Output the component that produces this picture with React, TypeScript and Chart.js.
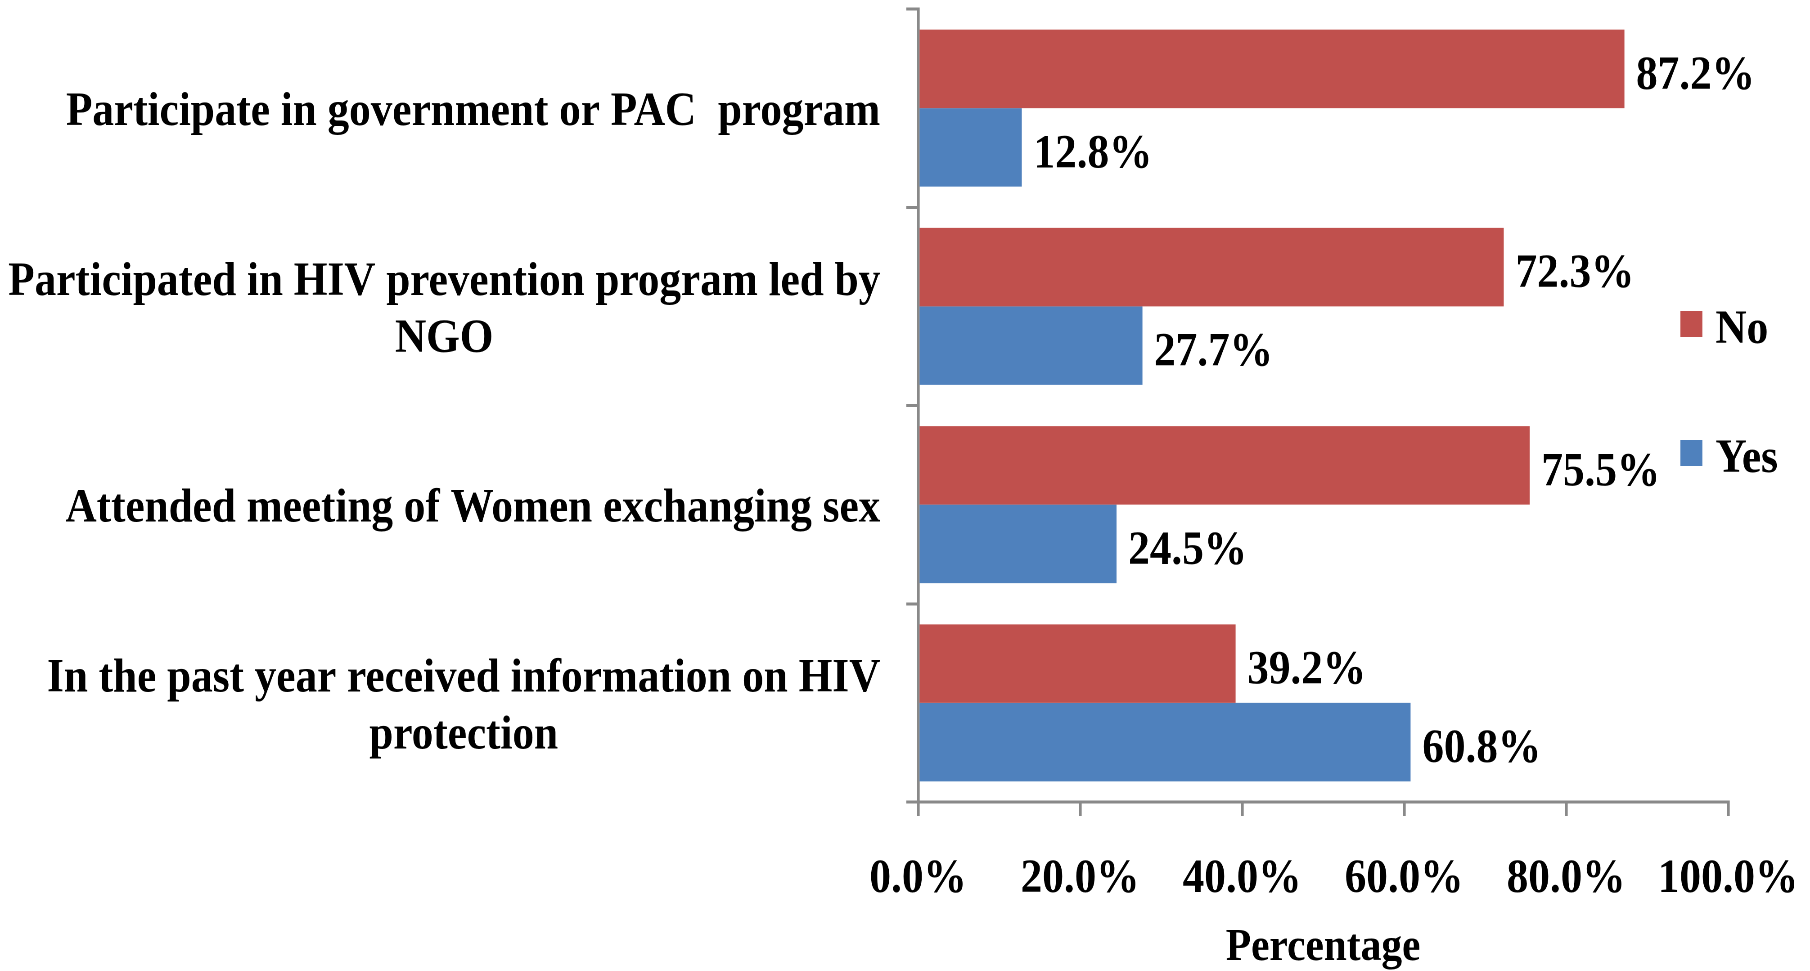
import React, { useEffect, useRef } from "react";
import { Chart, registerables } from "chart.js";

Chart.register(...registerables);

// Category labels, one entry per line of text
const categories: string[][] = [
  ["Participate in government or PAC  program"],
  ["Participated in HIV prevention program led by", "NGO"],
  ["Attended meeting of Women exchanging sex"],
  ["In the past year received information on HIV", "protection"],
];

const seriesNames = ["No", "Yes"];
const seriesColors = ["#C0504D", "#4F81BD"];
const noValues = [87.2, 72.3, 75.5, 39.2];
const yesValues = [12.8, 27.7, 24.5, 60.8];

const xTickValues = [0, 20, 40, 60, 80, 100];
const xAxisTitle = "Percentage";

const FONT = '"Liberation Serif", "Times New Roman", serif';
const AXIS_COLOR = "#898989";

// The drawing is laid out on a wider canvas and condensed horizontally.
const VIEW_W = 1810;
const VIEW_H = 971;
const CANVAS_W = 2011;

// Multi-line category labels: lines centred on each other, block right-aligned to the axis
const categoryLabelsPlugin = {
  id: "categoryLabels",
  afterDraw(chart: any) {
    const { ctx } = chart;
    const yScale = chart.scales.y;
    ctx.save();
    ctx.font = `bold 48px ${FONT}`;
    ctx.fillStyle = "#000";
    ctx.textAlign = "center";
    ctx.textBaseline = "alphabetic";
    const rightEdge = yScale.right - 42;
    categories.forEach((lines, i) => {
      const center = yScale.getPixelForTick(i);
      const blockW = Math.max(...lines.map((l) => ctx.measureText(l).width));
      const cx = rightEdge - blockW / 2;
      lines.forEach((line, j) => {
        ctx.fillText(line, cx, center + 17 + (j - (lines.length - 1) / 2) * 57);
      });
    });
    ctx.restore();
  },
};

// Value labels at the end of every bar
const valueLabelsPlugin = {
  id: "valueLabels",
  afterDatasetsDraw(chart: any) {
    const { ctx } = chart;
    ctx.save();
    ctx.font = `bold 48px ${FONT}`;
    ctx.fillStyle = "#000";
    ctx.textAlign = "left";
    ctx.textBaseline = "alphabetic";
    chart.data.datasets.forEach((ds: any, di: number) => {
      const meta = chart.getDatasetMeta(di);
      meta.data.forEach((bar: any, i: number) => {
        const v = ds.data[i] as number;
        ctx.fillText(`${v.toFixed(1)}%`, bar.x + 13, bar.y + 20);
      });
    });
    ctx.restore();
  },
};

// Legend drawn inside the right part of the plot
const sideLegendPlugin = {
  id: "sideLegend",
  afterDraw(chart: any) {
    const { ctx, chartArea } = chart;
    ctx.save();
    ctx.font = `bold 48px ${FONT}`;
    ctx.textAlign = "left";
    ctx.textBaseline = "alphabetic";
    const boxX = chartArea.right - 53;
    chart.data.datasets.forEach((ds: any, i: number) => {
      const top = 311 + i * 129;
      ctx.fillStyle = ds.backgroundColor;
      ctx.fillRect(boxX, top, 24.4, 26);
      ctx.fillStyle = "#000";
      ctx.fillText(ds.label, boxX + 39, top + 32);
    });
    ctx.restore();
  },
};

export default function App() {
  const canvasRef = useRef<HTMLCanvasElement>(null);

  useEffect(() => {
    const canvas = canvasRef.current;
    if (!canvas) return;
    const chart = new Chart(canvas, {
      type: "bar",
      data: {
        labels: categories.map((l) => l.join(" ")),
        datasets: [
          {
            label: seriesNames[0],
            data: noValues,
            backgroundColor: seriesColors[0],
            borderWidth: 0,
            categoryPercentage: 0.792,
            barPercentage: 1.0,
          },
          {
            label: seriesNames[1],
            data: yesValues,
            backgroundColor: seriesColors[1],
            borderWidth: 0,
            categoryPercentage: 0.792,
            barPercentage: 1.0,
          },
        ],
      },
      options: {
        animation: false,
        responsive: true,
        maintainAspectRatio: false,
        devicePixelRatio: 2,
        indexAxis: "y",
        layout: { padding: { top: 9, right: 91, left: 0, bottom: 0 } },
        plugins: {
          legend: { display: false },
          tooltip: { enabled: false },
        },
        scales: {
          x: {
            type: "linear",
            position: "bottom",
            min: 0,
            max: 100,
            afterBuildTicks: (scale: any) => {
              scale.ticks = xTickValues.map((v) => ({ value: v }));
            },
            afterFit: (scale: any) => {
              scale.height = 169;
            },
            grid: {
              drawOnChartArea: false,
              color: AXIS_COLOR,
              lineWidth: 3.3,
              tickLength: 14,
            },
            border: { color: AXIS_COLOR, width: 3 },
            ticks: {
              color: "#000",
              padding: 10,
              maxRotation: 0,
              autoSkip: false,
              font: { family: FONT, size: 48, weight: "bold", lineHeight: 2.23 },
              callback: (v: any) => `${Number(v).toFixed(1)}%`,
            },
            title: {
              display: true,
              text: xAxisTitle,
              color: "#000",
              padding: 0,
              font: { family: FONT, size: 46, weight: "bold", lineHeight: 1 },
            },
          },
          y: {
            type: "category",
            offset: true,
            afterFit: (scale: any) => {
              scale.width = 1020;
            },
            grid: {
              offset: true,
              drawOnChartArea: false,
              color: AXIS_COLOR,
              lineWidth: 3,
              tickLength: 13,
            },
            border: { color: AXIS_COLOR, width: 3.3 },
            ticks: { display: false },
          },
        },
      },
      plugins: [valueLabelsPlugin, categoryLabelsPlugin, sideLegendPlugin],
    } as any);
    return () => chart.destroy();
  }, []);

  return (
    <div
      style={{
        position: "fixed",
        left: 0,
        top: 0,
        width: VIEW_W,
        height: VIEW_H,
        overflow: "hidden",
        background: "#fff",
      }}
    >
      <div
        style={{
          width: CANVAS_W,
          height: VIEW_H,
          transform: `scaleX(${VIEW_W / CANVAS_W})`,
          transformOrigin: "0 0",
        }}
      >
        <canvas ref={canvasRef} />
      </div>
    </div>
  );
}
